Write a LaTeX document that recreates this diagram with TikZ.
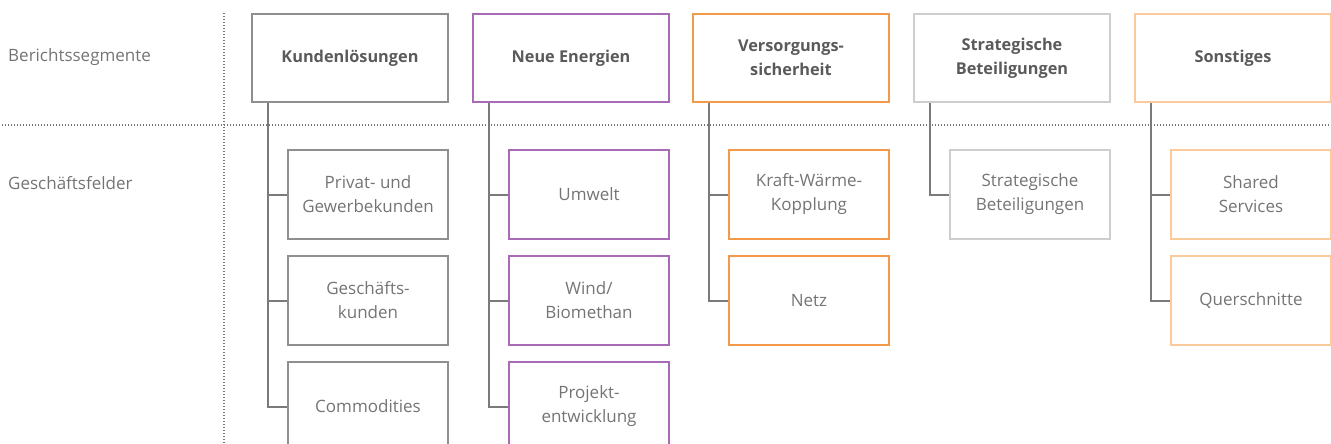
\documentclass[tikz,border=0pt]{standalone}
\usepackage{fontspec}
\setmainfont{Open Sans}
\definecolor{cgray}{HTML}{8F8F8F}
\definecolor{cpurple}{HTML}{A96BB5}
\definecolor{corange}{HTML}{F29A4A}
\definecolor{clgray}{HTML}{CDCDCD}
\definecolor{clorange}{HTML}{FCC99B}
\definecolor{cline}{HTML}{7A7A7A}
\definecolor{ctxt}{HTML}{747474}
\definecolor{ctxtb}{HTML}{5A5A5A}
\definecolor{cdot}{HTML}{777777}
\tikzset{
  seg/.style={draw, line width=2pt, rectangle, anchor=north west, minimum width=196pt, minimum height=88pt, align=center, text=ctxtb, font=\fontsize{16.3}{24}\selectfont\bfseries, inner sep=0pt},
  fld/.style={draw, line width=2pt, rectangle, anchor=north west, minimum width=160pt, minimum height=89pt, align=center, text=ctxt, font=\fontsize{17}{24}\selectfont, inner sep=0pt},
  conn/.style={draw=cline, line width=2pt},
  sep/.style={draw=cdot, line width=1.2pt, dash pattern=on 1.2pt off 1.8pt},
  rowlabel/.style={anchor=west, text=ctxt, font=\fontsize{17}{24}\selectfont, inner sep=0pt}
}
\begin{document}
\begin{tikzpicture}[x=1pt,y=-1pt]
\useasboundingbox (0,0) rectangle (1331,444);
\clip (0,0) rectangle (1331,444);
% separators
\coordinate (vtop) at (224,13);
\coordinate (vbot) at (224,444);
\coordinate (hl) at (2,125);
\coordinate (hr) at (1331,125);
\draw[sep] (vtop) -- (vbot);
\draw[sep] (hl) -- (hr);
% row labels
\node[rowlabel] (lab1) at (8,57) {Berichtssegmente};
\node[rowlabel] (lab2) at (8,183) {Geschäftsfelder};
% segments
\node[seg, draw=cgray]    (s1) at (251,13) {Kundenlösungen};
\node[seg, draw=cpurple]  (s2) at (472,13) {Neue Energien};
\node[seg, draw=corange]  (s3) at (692,13) {Versorgungs-\\sicherheit};
\node[seg, draw=clgray]   (s4) at (913,13) {Strategische\\Beteiligungen};
\node[seg, draw=clorange] (s5) at (1134,13) {Sonstiges};
% fields
\node[fld, draw=cgray] (f11) at (287,149) {Privat- und\\Gewerbekunden};
\node[fld, draw=cgray] (f12) at (287,255) {Geschäfts-\\kunden};
\node[fld, draw=cgray] (f13) at (287,361) {Commodities};
\node[fld, draw=cpurple] (f21) at (508,149) {Umwelt};
\node[fld, draw=cpurple] (f22) at (508,255) {Wind/\\Biomethan};
\node[fld, draw=cpurple] (f23) at (508,361) {Projekt-\\entwicklung};
\node[fld, draw=corange] (f31) at (728,149) {Kraft-Wärme-\\Kopplung};
\node[fld, draw=corange] (f32) at (728,255) {Netz};
\node[fld, draw=clgray] (f41) at (949,149) {Strategische\\Beteiligungen};
\node[fld, draw=clorange] (f51) at (1170,149) {Shared\\Services};
\node[fld, draw=clorange] (f52) at (1170,255) {Querschnitte};
% connectors
\draw[conn] ([xshift=17pt]s1.south west) |- (f11.west);
\draw[conn] ([xshift=17pt]s1.south west) |- (f12.west);
\draw[conn] ([xshift=17pt]s1.south west) |- (f13.west);
\draw[conn] ([xshift=17pt]s2.south west) |- (f21.west);
\draw[conn] ([xshift=17pt]s2.south west) |- (f22.west);
\draw[conn] ([xshift=17pt]s2.south west) |- (f23.west);
\draw[conn] ([xshift=17pt]s3.south west) |- (f31.west);
\draw[conn] ([xshift=17pt]s3.south west) |- (f32.west);
\draw[conn] ([xshift=17pt]s4.south west) |- (f41.west);
\draw[conn] ([xshift=17pt]s5.south west) |- (f51.west);
\draw[conn] ([xshift=17pt]s5.south west) |- (f52.west);
\end{tikzpicture}
\end{document}
